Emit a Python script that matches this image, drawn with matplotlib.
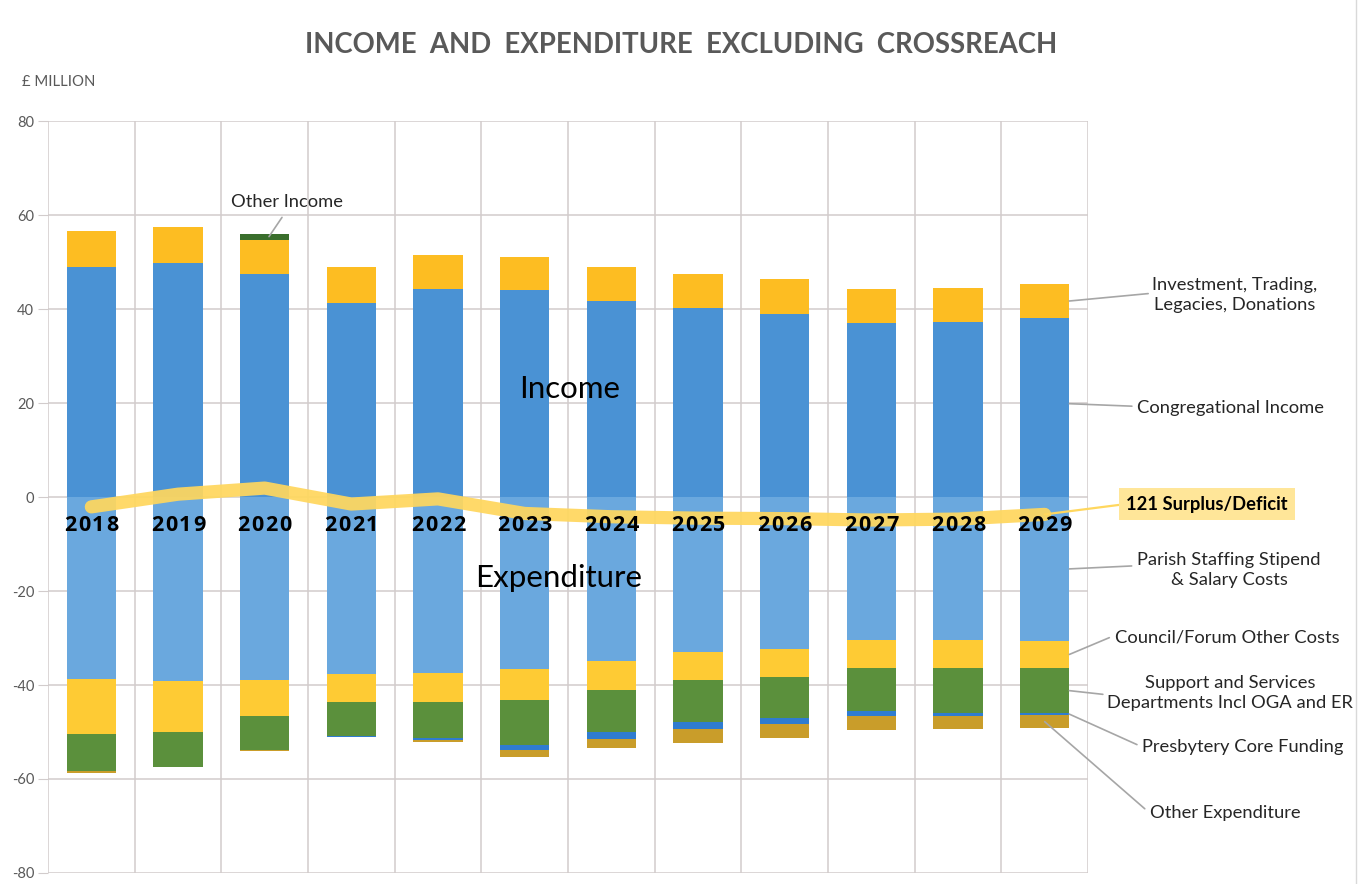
import matplotlib
matplotlib.use("Agg")
import matplotlib.pyplot as plt
import numpy as np

# ---------------- data (£ million) ----------------
years = ['2018', '2019', '2020', '2021', '2022', '2023',
         '2024', '2025', '2026', '2027', '2028', '2029']

congregational_income = [48.9, 49.8, 47.4, 41.3, 44.2, 44.0, 41.7, 40.3, 38.9, 37.0, 37.3, 38.1]
investment_trading = [7.7, 7.7, 7.2, 7.6, 7.3, 7.1, 7.2, 7.2, 7.4, 7.3, 7.2, 7.2]
other_income = [0.0, 0.0, 1.3, 0.0, 0.0, 0.0, 0.0, 0.0, 0.0, 0.0, 0.0, 0.0]

parish_staffing = [38.8, 39.1, 38.9, 37.6, 37.4, 36.7, 34.9, 33.0, 32.3, 30.4, 30.4, 30.6]
council_forum = [11.6, 10.8, 7.7, 6.0, 6.2, 6.5, 6.1, 5.9, 5.9, 5.9, 5.9, 5.8]
support_services = [8.0, 7.6, 7.2, 7.3, 7.6, 9.5, 9.1, 8.9, 8.9, 9.2, 9.7, 9.6]
presbytery_core = [0.0, 0.0, 0.0, 0.2, 0.4, 1.1, 1.4, 1.5, 1.2, 1.1, 0.6, 0.4]
other_expenditure = [0.4, 0.0, 0.3, 0.0, 0.5, 1.5, 1.8, 3.0, 3.0, 3.0, 2.8, 2.8]

surplus_deficit = [-2.1, 0.6, 1.9, -1.5, -0.4, -3.5, -4.2, -4.5, -4.6, -4.9, -4.7, -3.7]

# ---------------- styling ----------------
FONT = ['Lato', 'DejaVu Sans']
plt.rcParams['font.family'] = FONT
plt.rcParams['axes.unicode_minus'] = False
TXT = '#262626'
GREY = '#595959'
GRID = '#D2CCCC'
LEADER = '#A6A6A6'
LFS = 13.2  # label font size

c_cong = '#4A92D4'
c_inv = '#FDBD22'
c_oinc = '#3A6E2C'
c_staff = '#6AA8DE'
c_council = '#FECB34'
c_support = '#5B903C'
c_presb = '#2F7CD0'
c_oexp = '#C99D2A'
c_line = '#FFD75E'

W, H = 1362, 884
fig = plt.figure(figsize=(W / 100, H / 100), dpi=100)
ax = fig.add_axes([48 / W, 1 - 873 / H, (1088 - 48) / W, (873 - 121) / H])

x = np.arange(len(years))
bw = 0.57


def stack(series_list, colors, sign):
    base = np.zeros(len(years))
    for vals, col in zip(series_list, colors):
        v = np.array(vals) * sign
        ax.bar(x, v, bw, bottom=base, color=col, edgecolor='none', zorder=2)
        base = base + v


stack([congregational_income, investment_trading, other_income],
      [c_cong, c_inv, c_oinc], 1)
stack([parish_staffing, council_forum, support_services, presbytery_core, other_expenditure],
      [c_staff, c_council, c_support, c_presb, c_oexp], -1)

ax.plot(x, surplus_deficit, color=c_line, lw=9.5, alpha=0.93,
        solid_capstyle='round', solid_joinstyle='round', zorder=3)

# bold, letter-spaced year labels
step_pt = 14.0 * 0.72
for xi, yr in zip(x, years):
    n = len(yr)
    for k, ch in enumerate(yr):
        ax.annotate(ch, xy=(xi, -6.1), xytext=((k - (n - 1) / 2) * step_pt, 0),
                    textcoords='offset points', ha='center', va='center',
                    fontsize=15.5, fontweight='bold', color='black',
                    family=['Open Sans', 'DejaVu Sans'], zorder=4)

ax.set_xlim(-0.5, len(years) - 0.5)
ax.set_ylim(-80, 80)
ax.set_yticks(np.arange(-80, 81, 20))
ax.set_xticks([])
ax.set_xticks(np.arange(-0.5, len(years), 1), minor=True)
ax.tick_params(axis='x', which='both', length=0, labelbottom=False)
ax.tick_params(axis='y', length=7, color=GRID, labelsize=10.5, labelcolor=GREY, pad=3)
ax.grid(axis='y', which='major', color=GRID, lw=1.1, zorder=0)
ax.grid(axis='x', which='minor', color=GRID, lw=1.1, zorder=0)
ax.set_axisbelow(True)
for s in ax.spines.values():
    s.set_visible(False)

# ---------------- texts ----------------
fig.text(681 / W, 1 - 45 / H, 'INCOME  AND  EXPENDITURE  EXCLUDING  CROSSREACH',
         ha='center', va='center', fontsize=19.8, fontweight='bold', color=GREY)
fig.text(22 / W, 1 - 82 / H, '£ MILLION', ha='left', va='center', fontsize=10.7, color=GREY)


def X(px):
    return (px - 48) / 86.67 - 0.5


def Y(py):
    return (497 - py) / 4.7


ax.text(X(570), Y(389), 'Income', ha='center', va='center', fontsize=22.5, color='black', zorder=5)
ax.text(X(559), Y(578), 'Expenditure', ha='center', va='center', fontsize=22.5, color='black', zorder=5)

xr = x[-1] + bw / 2
last = len(years) - 1
inc1 = congregational_income[last]
inc2 = inc1 + investment_trading[last]
e1 = -parish_staffing[last]
e2 = e1 - council_forum[last]
e3 = e2 - support_services[last]
e4 = e3 - presbytery_core[last]
e5 = e4 - other_expenditure[last]


def lead(text, xy, txy, relpos, shrinkA=2, **kw):
    ax.annotate(text, xy=xy, xytext=txy, ha='center', va='center', fontsize=LFS,
                color=kw.pop('color', TXT), annotation_clip=False, linespacing=1.3,
                arrowprops=dict(arrowstyle='-', color=kw.pop('lc', LEADER), lw=kw.pop('lw', 1.2),
                                shrinkA=shrinkA, shrinkB=0, relpos=relpos),
                zorder=6, **kw)


lead('Investment, Trading,\nLegacies, Donations', (xr, (inc1 + inc2) / 2),
     (X(1235), Y(295)), (0, 0.55), shrinkA=1)
lead('Congregational Income', (xr, inc1 / 2 + 0.8), (X(1231), Y(408)), (0, 0.6))
lead('121 Surplus/Deficit', (x[-1], surplus_deficit[-1]), (X(1207), Y(504)), (0, 0.5),
     shrinkA=0, fontweight='bold', color='black', lc=c_line, lw=1.6,
     bbox=dict(boxstyle='square,pad=0.4', fc='#FFE699', ec='none'))
lead('Parish Staffing Stipend\n& Salary Costs', (xr, e1 / 2), (X(1229), Y(570)), (0, 0.62))
lead('Council/Forum Other Costs', (xr, (e1 + e2) / 2), (X(1227), Y(637)), (0, 0.6))
lead('Support and Services\nDepartments Incl OGA and ER', (xr, (e2 + e3) / 2),
     (X(1230), Y(693)), (0, 0.45), shrinkA=1)
lead('Presbytery Core Funding', (xr, (e3 + e4) / 2), (X(1243), Y(747)), (0, 0.5))
lead('Other Expenditure', (x[-1], (e4 + e5) / 2), (X(1225), Y(813)), (0, 0.5))

oi_top = congregational_income[2] + investment_trading[2] + other_income[2]
lead('Other Income', (x[2] + 0.05, oi_top - 0.5), (X(287), Y(202)), (0.5, 0), shrinkA=4)

# right border line of the chart area
fig.add_artist(plt.Line2D([1356 / W, 1356 / W], [0.0, 1.0], color='#D9D9D9', lw=1.0))

fig.savefig('out.png', dpi=100, facecolor='white')
